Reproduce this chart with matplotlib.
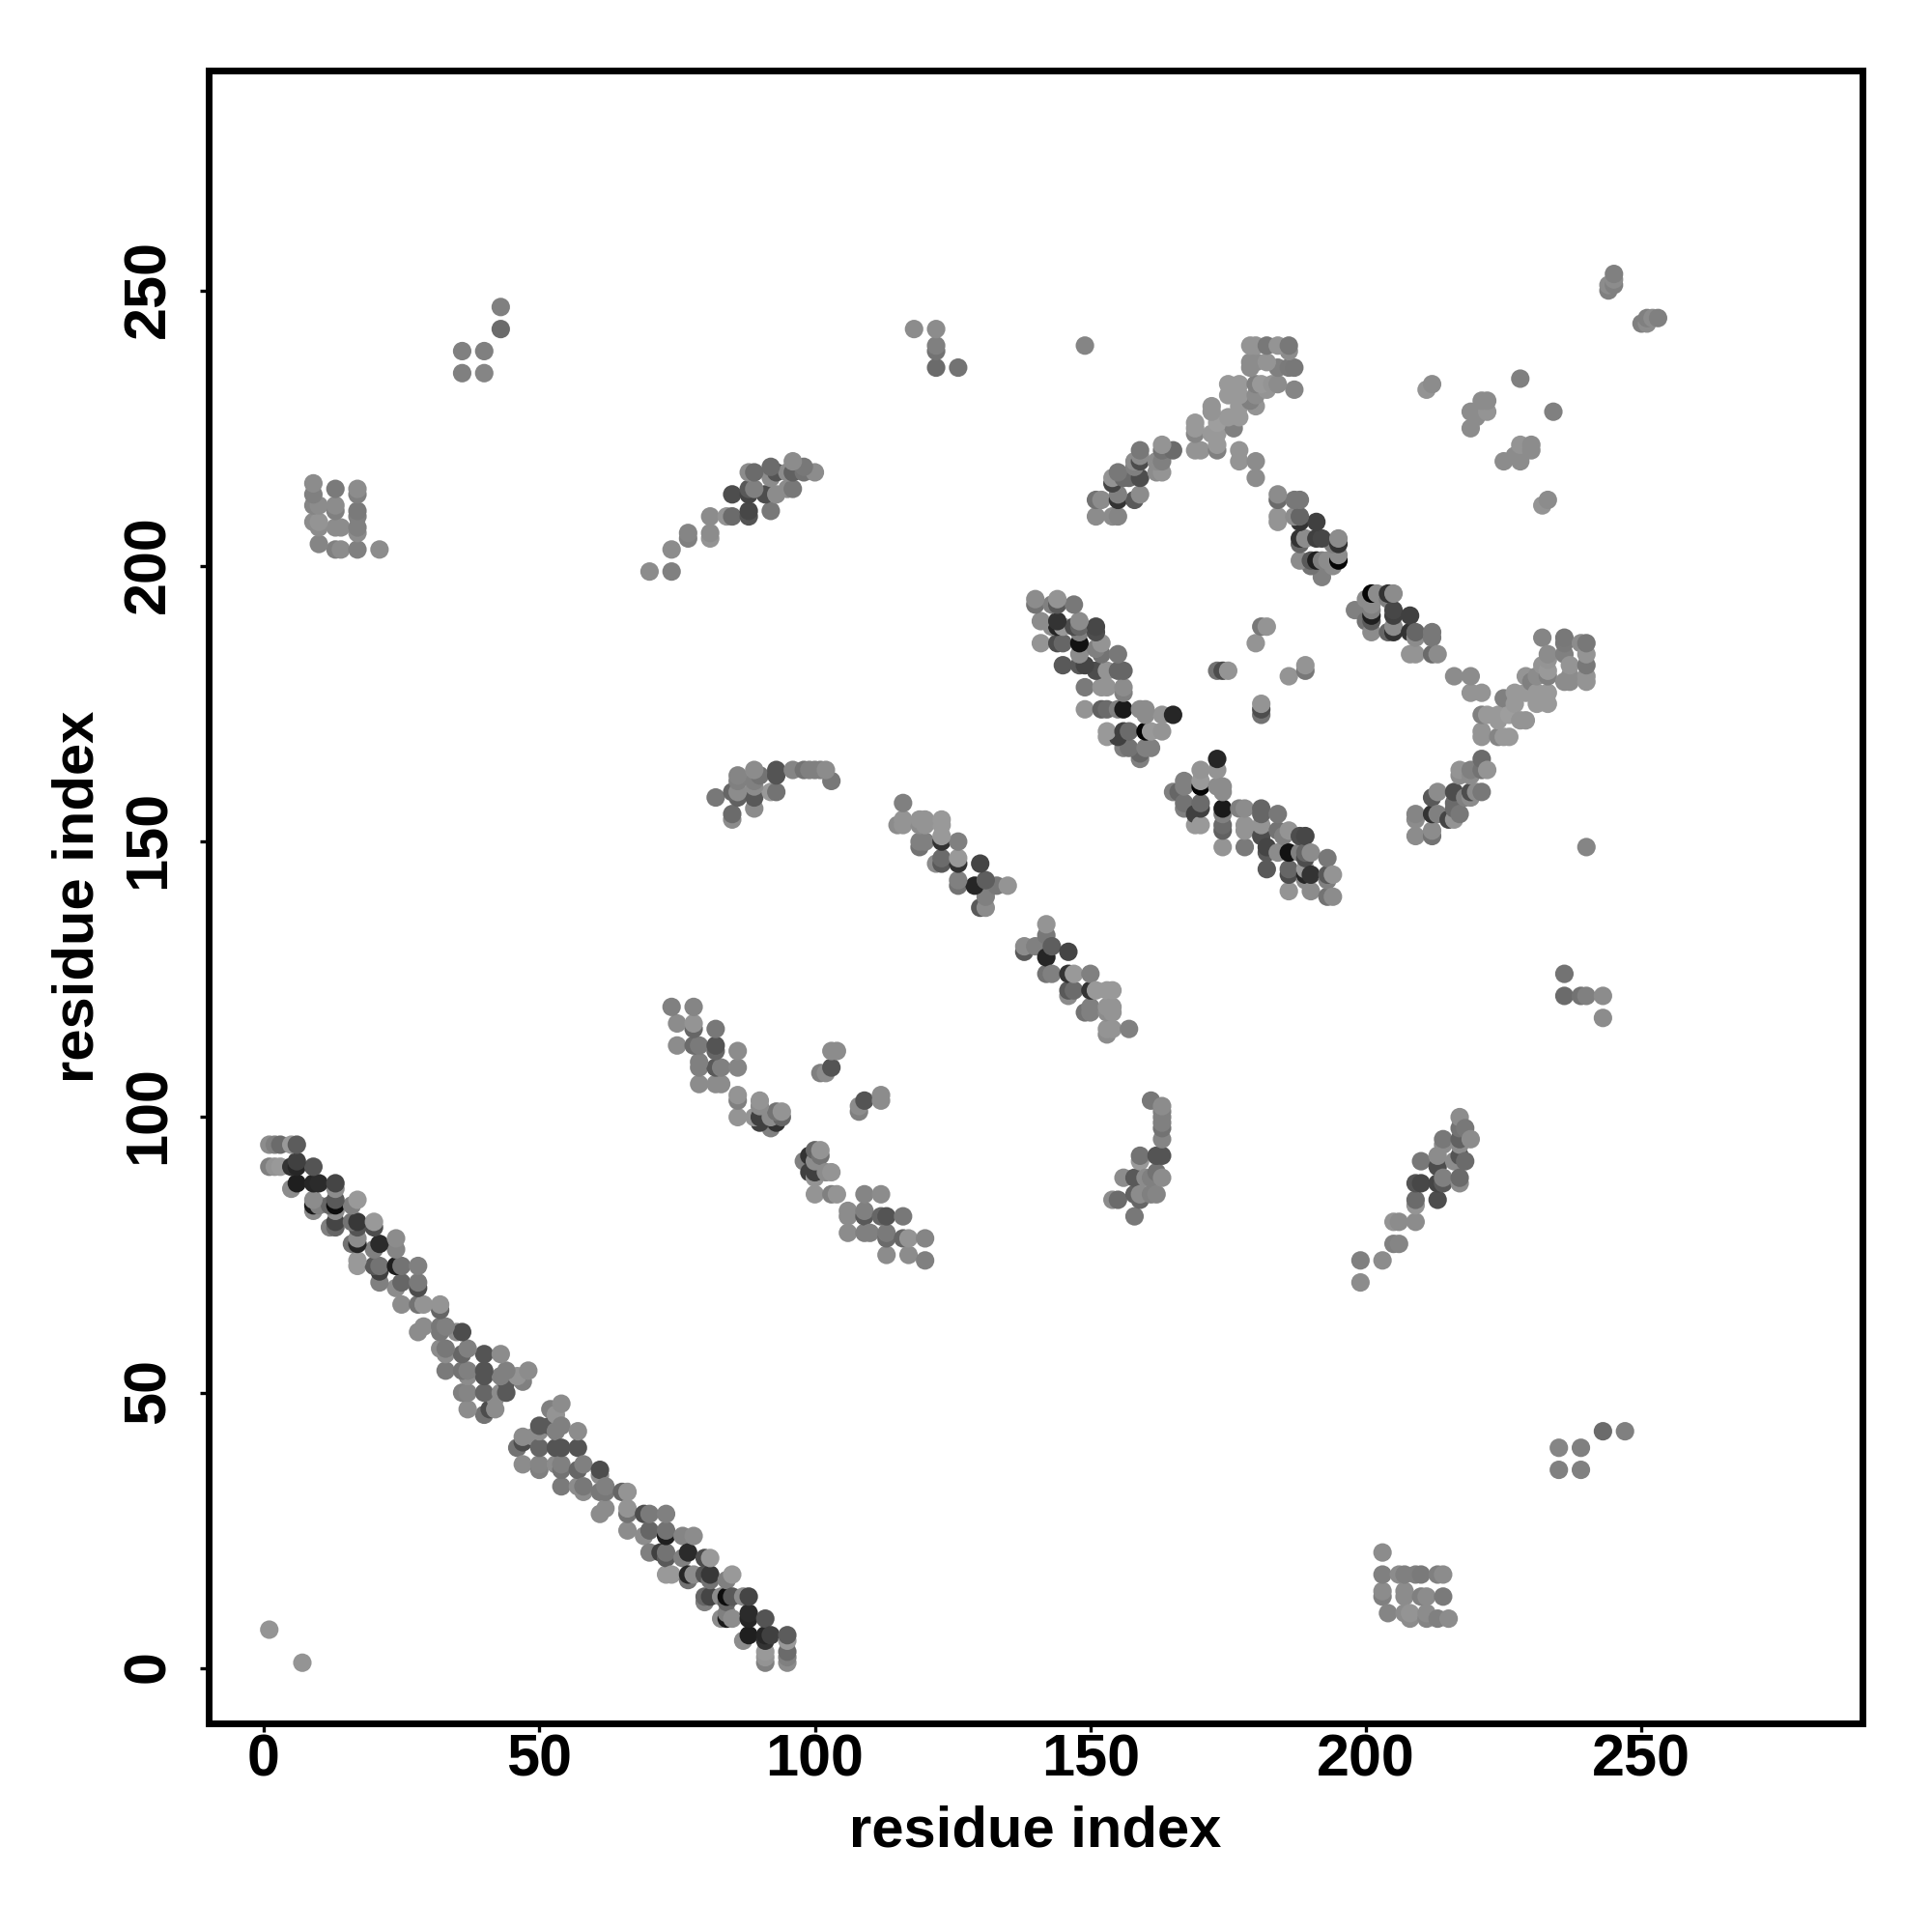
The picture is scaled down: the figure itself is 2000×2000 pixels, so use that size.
import matplotlib
matplotlib.use("Agg")
import matplotlib.pyplot as plt
from matplotlib.transforms import ScaledTranslation

# contacts (residue i, residue j, grey level), i < j; the map is symmetric
strand_a = [(1,95,.55),(2,95,.5),(3,95,.42),(5,95,.6),(6,95,.36),(1,91,.5),(2,91,.58),(3,91,.6),(5,91,.2),(6,92,.25),(6,91,.15),(9,91,.33),
 (5,87,.55),(6,88,.12),(9,88,.15),(10,88,.17),(13,87,.55),(13,88,.27),(9,83,.55),(9,85,.55),(9,84,.1),(10,84,.5),(12,84,.4),(13,83,.55),(13,85,.35),(13,84,.05),
 (16,84,.5),(17,85,.6),(12,80,.5),(13,80,.4),(13,81,.27),(16,81,.45),(17,80,.33),(17,81,.22),(20,80,.3),(20,81,.6),
 (16,77,.45),(17,77,.15),(17,78,.55),(17,74,.6),(17,73,.6),(20,76,.5),(21,77,.17),(24,76,.52),(24,78,.55),
 (20,73,.35),(21,72,.25),(21,73,.45),(24,73,.12),(25,73,.45),(28,73,.5),(21,70,.5),(24,69,.55),(25,70,.4),(28,69,.3),(28,70,.48),
 (25,66,.55),(28,66,.45),(29,66,.58),(32,65,.4),(32,66,.58),(28,61,.55),(29,62,.55),(32,61,.47),(32,62,.47),(33,62,.5),(35,61,.55),(36,61,.3),
 (32,58,.55),(33,58,.47),(33,57,.55),(36,57,.4),(37,58,.5),(40,57,.33),(43,57,.55),(33,54,.48),(36,54,.45),(37,53,.55),(37,54,.5),(40,53,.33),(40,54,.33),
 (43,53,.5),(44,52,.35),(44,54,.5),(47,52,.5),(46,53,.58),(48,54,.55),(36,50,.5),(37,50,.52),(37,47,.55),(40,46,.45),(40,50,.4),(41,47,.3),(42,47,.55),(42,49,.55),(43,50,.55),(44,50,.35)]

strand_b = [(74,120,.5),(78,120,.52),(75,117,.55),(78,116,.4),(78,117,.58),(82,116,.47),(75,113,.55),(78,113,.42),(79,113,.48),(82,112,.4),(82,113,.33),(86,112,.55),
 (79,109,.5),(79,110,.5),(82,109,.35),(83,109,.5),(86,109,.52),(79,106,.55),(82,106,.55),(83,106,.55),(86,103,.5),(86,104,.58),(86,100,.58),
 (89,100,.58),(90,99,.25),(90,100,.25),(90,102,.55),(90,103,.58),(92,98,.5),(92,100,.55),(93,99,.2),(93,101,.45),(94,100,.4),(94,101,.58)]

cluster_b = [(101,108,.5),(102,108,.55),(103,109,.33),(103,112,.55),(104,112,.55)]

strand_c = [(116,157,.5),(115,153,.55),(116,153,.58),(116,154,.58),(119,149,.45),(119,150,.5),(119,153,.55),(119,154,.58),(120,150,.5),(120,153,.58),(120,154,.58),
 (122,146,.55),(123,146,.35),(123,147,.42),(123,150,.2),(123,151,.6),(123,153,.6),(123,154,.6),(126,142,.45),(126,143,.5),(126,146,.2),(126,147,.6),(126,150,.5),
 (129,142,.15),(130,138,.35),(130,146,.27),(131,138,.55),(131,140,.5),(131,143,.37),(133,142,.47),(135,142,.58)]

strand_d = [(140,193,.45),(140,194,.55),(143,193,.5),(144,193,.35),(144,194,.58),(147,193,.47),(141,190,.55),(143,189,.55),(144,189,.15),(144,190,.2),(145,189,.6),
 (147,189,.3),(148,188,.5),(148,189,.4),(148,190,.55),(151,188,.3),(151,189,.28),(141,186,.58),(144,186,.3),(145,186,.4),(148,186,.07),(151,185,.5),(152,186,.58),
 (148,184,.55),(152,184,.45),(155,184,.47),(145,182,.35),(148,182,.35),(149,182,.27),(151,181,.3),(153,181,.58),(155,181,.4),(156,181,.4),
 (149,178,.48),(152,178,.58),(153,178,.58),(156,177,.5),(156,178,.55),(149,174,.58),(152,174,.38),(153,174,.42),(155,174,.5),(156,174,.1),(159,174,.55),(160,173,.55),(160,174,.55),(163,173,.58),(165,173,.15),
 (153,169,.6),(153,170,.6),(155,169,.25),(156,170,.25),(157,170,.42),(160,170,.02),(161,170,.6),(163,170,.58),(156,167,.5),(157,167,.45),(159,165,.5),(159,166,.4),(160,167,.5),(161,167,.5)]

cluster_d = [(173,181,.45),(174,181,.3),(175,181,.58),(180,186,.58),(181,189,.47),(182,189,.58)]

strand_e = [(184,212,.42),(184,213,.55),(187,212,.47),(188,212,.47),(184,208,.58),(184,209,.58),(187,209,.55),(188,208,.2),(188,209,.4),(191,208,.25),
 (188,204,.4),(188,205,.2),(189,205,.55),(191,205,.25),(192,205,.28),(194,204,.5),(195,202,.55),(195,204,.2),(195,205,.55),
 (188,201,.55),(190,200,.45),(190,201,.35),(191,201,.12),(192,198,.5),(192,201,.5),(193,201,.55),(194,200,.55),(195,201,.02)]

strand_f = [(151,209,.55),(154,209,.55),(155,209,.52),(151,212,.45),(152,212,.55),(155,212,.2),(155,213,.5),(158,212,.35),(159,213,.55),(154,215,.27),(154,216,.58),(156,216,.42),(157,216,.42),(155,217,.47),
 (159,216,.3),(158,218,.5),(158,219,.55),(159,219,.3),(159,220,.55),(159,221,.47),(162,217,.55),(162,219,.55),(163,217,.58),(163,219,.5),(163,221,.45),(163,222,.58),(165,221,.42)]

strand_g = [(169,221,.58),(170,221,.58),(173,221,.5),(173,222,.6),(177,219,.58),(177,221,.58),(180,216,.55),(180,219,.55),
 (169,224,.52),(169,225,.6),(169,226,.6),(172,224,.6),(173,224,.6),(173,226,.62),(176,225,.5),(175,227,.6),(177,227,.6),(172,228,.58),(172,229,.58),(177,229,.6),(180,229,.58),(179,230,.5),
 (175,231,.6),(177,231,.6),(180,231,.55),(182,232,.58),(187,232,.52),(175,233,.6),(177,233,.6),(180,233,.5),(181,233,.6),(183,233,.58),(184,233,.55),
 (179,236,.55),(184,236,.5),(186,236,.48),(187,236,.47),(179,237,.55),(180,237,.55),(182,237,.58),(186,239,.55),(179,240,.58),(180,240,.58),(182,240,.47),(184,240,.58),(186,240,.47)]

strand_h = [(70,199,.55),(74,199,.5),(74,203,.55),(77,205,.5),(77,206,.52),(81,205,.58),(81,206,.55),(81,209,.55),(84,209,.58),(85,209,.42),(88,209,.33),(88,210,.28),(92,210,.47),
 (85,213,.3),(88,213,.27),(88,214,.35),(89,214,.5),(91,213,.3),(93,213,.55),(95,214,.55),(96,214,.47),(88,217,.55),(89,217,.42),(92,216,.55),(92,218,.42),(93,217,.33),(95,217,.55),(96,217,.38),(96,219,.55),(98,217,.45),(98,218,.47),(100,217,.55)]

strand_i = [(82,158,.47),(85,154,.55),(85,155,.42),(85,159,.4),(86,158,.38),(86,159,.55),(86,161,.5),(86,162,.52),(89,156,.55),(89,158,.35),(89,160,.55),(89,161,.5),(89,163,.55),(90,162,.45),
 (92,159,.6),(93,159,.45),(93,162,.33),(93,163,.33),(96,163,.52),(98,163,.45),(99,163,.5),(100,163,.5),(101,163,.5),(102,163,.55),(103,161,.47)]

block_a = [(9,215,.55),(9,213,.5),(9,211,.52),(10,211,.55),(13,214,.48),(13,211,.55),(13,210,.5),(17,214,.55),(17,213,.5),(17,210,.48),(17,209,.5),(9,208,.55),(10,208,.58),(10,207,.55),(13,207,.55),(14,207,.55),(17,207,.5),(17,206,.55),
 (10,204,.52),(13,203,.5),(14,203,.55),(17,203,.5),(21,203,.55)]

sparse = [(1,7,.58),(36,235,.5),(36,239,.5),(40,235,.52),(40,239,.5),(43,243,.42),(43,247,.5),(118,243,.55),(122,243,.55),(122,240,.5),(122,239,.45),(122,236,.42),(126,236,.45),(149,240,.52),
 (211,232,.58),(212,233,.55),(219,225,.55),(219,228,.55),(220,227,.55),(221,228,.55),(221,230,.55),(222,228,.58),(222,230,.55),(228,234,.5),(244,250,.5),(244,251,.55),(245,251,.5),(245,252,.55),(245,253,.5)]

axis_label = "residue index"
tick_values = [0, 50, 100, 150, 200, 250]

groups = [strand_a, strand_b, cluster_b, strand_c, strand_d, cluster_d, strand_e, strand_f, strand_g, strand_h, strand_i, block_a, sparse]
contacts = sorted((c for g in groups for c in g), key=lambda c: (c[1], c[0]))
x = [c[0] for c in contacts] + [c[1] for c in contacts]
y = [c[1] for c in contacts] + [c[0] for c in contacts]
grey = [str(c[2]) for c in contacts] * 2

plt.rcParams['font.family'] = ['Liberation Sans', 'DejaVu Sans']
plt.rcParams['font.weight'] = 'bold'
fig = plt.figure(figsize=(20, 20), dpi=100)
ax = fig.add_axes([216/2000, 216/2000, 1711.5/2000, 1711.5/2000])
ax.scatter(x, y, s=190, c=grey, linewidths=0, zorder=3)
ax.set_xlim(-10, 290)
ax.set_ylim(-10, 290)
for s in ax.spines.values():
    s.set_linewidth(5)
ax.set_xticks(tick_values)
ax.set_yticks(tick_values)
ax.tick_params(axis='x', length=6.5, width=2.4, labelsize=44, pad=1)
ax.tick_params(axis='y', length=6.5, width=2.4, labelsize=44, pad=17)
shift = ScaledTranslation(0, 2/100, fig.dpi_scale_trans)
for t in ax.get_yticklabels():
    t.set_rotation(90)
    t.set_va('center')
    t.set_transform(t.get_transform() + shift)
ax.set_xlabel(axis_label, fontsize=43, fontweight='bold')
ax.set_ylabel(axis_label, fontsize=43, fontweight='bold')
ax.xaxis.set_label_coords(0.5, -0.0655, transform=ax.transAxes)
ax.yaxis.set_label_coords(-0.079, 0.5, transform=ax.transAxes)
ax.xaxis.label.set_va('center')
ax.yaxis.label.set_va('center')
fig.savefig('out.png', dpi=100, facecolor='white')
